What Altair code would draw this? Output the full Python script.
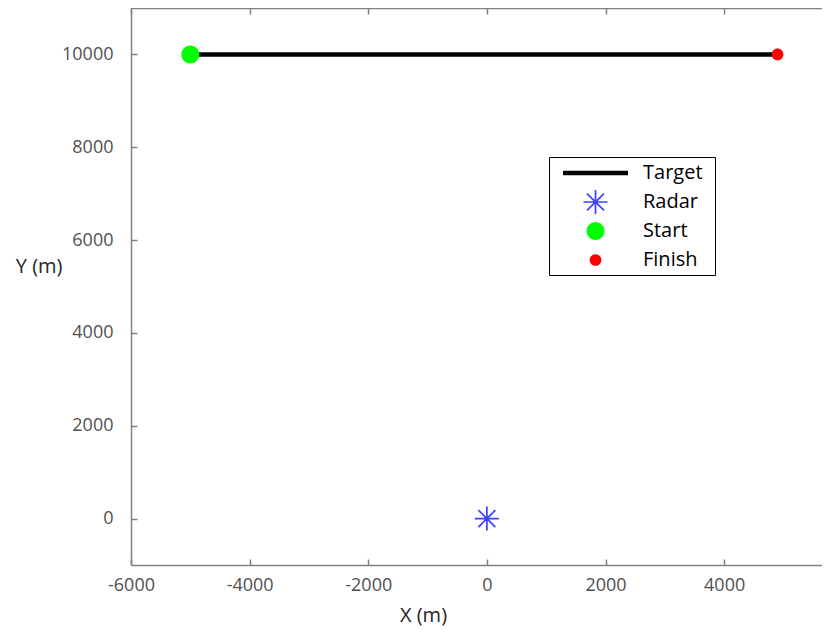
import altair as alt
import pandas as pd

# ---- data ----
series_names = ["Target", "Radar", "Start", "Finish"]
series_colors = ["#000000", "#4040ff", "#00ff00", "#ff0000"]

target_x = [-5000, 4900]
target_y = [10000, 10000]

point_names = ["Radar", "Start", "Finish"]
point_x = [0, -5000, 4900]
point_y = [0, 10000, 10000]

x_ticks = [-6000, -4000, -2000, 0, 2000, 4000]
y_ticks = [0, 2000, 4000, 6000, 8000, 10000]
x_domain = [-6000, 5650]
y_domain = [-1000, 11000]

target_df = pd.DataFrame({"x": target_x, "y": target_y})
points_df = pd.DataFrame({"series": point_names, "x": point_x, "y": point_y})

# ---- symbol geometry (units: 1 = 15 px at size 900) ----
L, R, HT, HB = 3.033, 7.9, 1.0, 0.933
ext = f"M{-L},{-HT}M{R},{HB}"


def circle(r):
    return f"M{-r},0A{r},{r} 0 1,1 {r},0A{r},{r} 0 1,1 {-r},0Z" + ext


def asterisk(r, t):
    a = r * 0.7071
    d = t * 0.7071
    p = f"M{-r},{-t}H{r}V{t}H{-r}Z"
    p += f"M{-t},{-r}H{t}V{r}H{-t}Z"
    p += f"M{-a + d},{-a - d}L{a + d},{a - d}L{a - d},{a + d}L{-a - d},{-a + d}Z"
    p += f"M{-a - d},{a - d}L{a - d},{-a - d}L{a + d},{-a + d}L{-a + d},{a + d}Z"
    return p + ext


line_path = "M-2.167,-0.15H2.167V0.15H-2.167Z" + ext
series_shapes = [line_path, asterisk(0.8, 0.058), circle(0.6), circle(0.39)]

W, Ht = 691, 557
gray = "#808080"
font = "Open Sans"
plain = "'' + datum.value"

xs = alt.Scale(domain=x_domain, nice=False, zero=False)
ys = alt.Scale(domain=y_domain, nice=False, zero=False)

common = dict(grid=False, domainColor=gray, domainWidth=1.5, tickColor=gray,
              tickWidth=1.5, labelFlush=False, labelOverlap=False)

main_x = alt.Axis(values=x_ticks, ticks=False, tickSize=0, labelFont=font,
                  labelFontSize=18, labelColor="#505050", labelPadding=11,
                  labelExpr=plain,
                  title="X (m)", titleFont=font, titleFontSize=20,
                  titleFontWeight="normal", titleColor="#262626",
                  titleX=292, titleY=56, titleAlign="center",
                  titleBaseline="alphabetic", **common)
main_y = alt.Axis(values=y_ticks, ticks=False, tickSize=0, labelFont=font,
                  labelFontSize=18, labelColor="#505050", labelPadding=18,
                  labelExpr=plain,
                  title="Y (m)", titleFont=font, titleFontSize=20,
                  titleFontWeight="normal", titleColor="#262626",
                  titleAngle=0, titleAlign="right", titleBaseline="middle",
                  titleX=-69, titleY=258, **common)

tick_bottom = alt.Axis(orient="top", offset=-Ht, values=x_ticks, labels=False,
                       domain=False, ticks=True, tickSize=6, title=None, **common)
tick_left = alt.Axis(orient="right", offset=-W, values=y_ticks, labels=False,
                     domain=False, ticks=True, tickSize=6, title=None, **common)
top_frame = alt.Axis(orient="bottom", offset=-Ht, values=x_ticks, labels=False,
                     domain=True, ticks=True, tickSize=6, title=None, **common)

leg = alt.Legend(title=None, orient="none", legendX=418, legendY=149,
                 fillColor="white", strokeColor="black", padding=1,
                 symbolSize=900, symbolStrokeWidth=0, symbolOffset=30.5,
                 symbolOpacity=1, labelOffset=32.5, labelFont=font,
                 labelFontSize=20, labelColor="black", rowPadding=0,
                 labelLimit=300)

color = alt.Color("series:N", scale=alt.Scale(domain=series_names, range=series_colors), legend=leg)
shape = alt.Shape("series:N", scale=alt.Scale(domain=series_names, range=series_shapes), legend=leg)

line = alt.Chart(target_df).mark_line(color="black", strokeWidth=4.5).encode(
    x=alt.X("x:Q", scale=xs, axis=main_x),
    y=alt.Y("y:Q", scale=ys, axis=main_y),
)

pts = alt.Chart(points_df).mark_point(filled=True, size=900, opacity=1, strokeWidth=0)

sf = pts.transform_filter(alt.datum.series != "Radar").encode(
    x=alt.X("x:Q", scale=xs, axis=top_frame),
    y=alt.Y("y:Q", scale=ys, axis=None),
    color=color, shape=shape,
)
radar = pts.transform_filter(alt.datum.series == "Radar").encode(
    x=alt.X("x:Q", scale=xs, axis=tick_bottom),
    y=alt.Y("y:Q", scale=ys, axis=tick_left),
    color=color, shape=shape,
)

chart = alt.layer(line, sf, radar).resolve_axis(
    x="independent", y="independent"
).properties(
    width=W, height=Ht,
    autosize=alt.AutoSizeParams(type="none"),
    padding={"left": 123, "top": 0, "right": 0, "bottom": 62},
).configure_view(strokeWidth=0)

chart.save("out.html", embed_options={"renderer": "svg", "actions": False})
